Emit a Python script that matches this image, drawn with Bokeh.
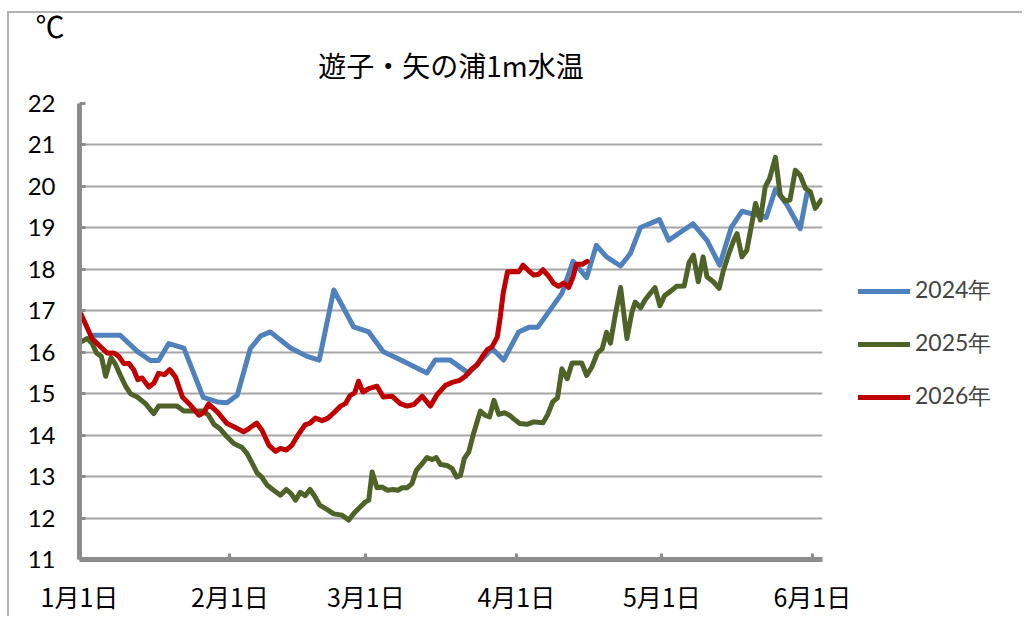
from bokeh.plotting import figure
from bokeh.models import Range1d, FixedTicker, Legend, LegendItem, Title
from bokeh.embed import file_html
from bokeh.resources import INLINE

# ---- data (x = days after Jan 1) ----
days_2024 = [2.9, 8.4, 11.9, 14.6, 16.3, 18.4, 21.5, 25.5, 28.4, 30.4, 32.5, 35.2, 37.3, 39.3,
             43.5, 46.9, 49.4, 52.4, 56.5, 59.6, 62.6, 66.1, 71.6, 73.3, 76.4, 80.2, 85.0, 87.4,
             90.5, 92.6, 94.4, 99.4, 101.7, 104.5, 106.5, 108.6, 111.5, 113.5, 115.6, 119.5,
             121.4, 126.4, 129.3, 131.9, 134.3, 136.5, 141.5, 143.4, 145.8, 148.5, 149.9]
temp_2024 = [16.41, 16.41, 16.02, 15.80, 15.80, 16.21, 16.10, 14.91, 14.80, 14.78, 14.96, 16.09,
             16.39, 16.49, 16.10, 15.90, 15.81, 17.50, 16.61, 16.49, 16.01, 15.82, 15.50, 15.81,
             15.81, 15.49, 16.09, 15.81, 16.49, 16.60, 16.60, 17.42, 18.19, 17.80, 18.58, 18.30,
             18.08, 18.38, 19.01, 19.20, 18.70, 19.10, 18.70, 18.10, 19.01, 19.40, 19.25, 19.93,
             19.55, 18.98, 19.83]

days_2025 = [0.3, 1.6, 2.6, 3.5, 4.5, 5.4, 6.5, 7.4, 8.4, 9.5, 10.5, 11.9, 13.6, 15.3, 16.3,
             18.1, 20.1, 21.5, 23.5, 25.6, 26.6, 27.7, 28.9, 30.4, 31.8, 33.5, 34.5, 35.6, 36.6,
             37.6, 38.7, 40.0, 41.4, 42.6, 43.6, 44.5, 45.5, 46.5, 47.5, 48.5, 49.5, 51.0, 52.4,
             54.1, 55.5, 56.5, 57.7, 58.9, 59.6, 60.3, 61.3, 62.3, 63.5, 64.6, 65.6, 66.5, 67.5,
             68.5, 69.4, 70.6, 71.6, 72.7, 73.5, 74.4, 75.7, 76.8, 77.7, 78.5, 79.3, 80.2, 81.2,
             82.6, 83.6, 84.5, 85.4, 86.4, 87.6, 88.6, 89.6, 90.7, 92.2, 93.6, 94.4, 95.5, 96.5,
             97.5, 98.5, 99.4, 100.5, 101.5, 102.5, 103.5, 104.5, 105.6, 106.7, 107.7, 108.6,
             109.4, 110.4, 111.5, 112.8, 113.8, 114.5, 115.6, 116.6, 117.6, 118.6, 119.6, 120.6,
             121.9, 123.0, 124.6, 125.6, 126.5, 127.5, 128.5, 129.3, 130.6, 131.8, 132.7, 133.8,
             134.8, 135.5, 136.5, 137.5, 138.4, 139.3, 140.3, 141.3, 142.2, 143.4, 144.4, 145.4,
             146.4, 147.5, 148.5, 149.6, 150.6, 151.6, 152.8]
temp_2025 = [16.25, 16.33, 16.21, 15.98, 15.90, 15.42, 15.87, 15.71, 15.45, 15.18, 15.00, 14.92,
             14.76, 14.52, 14.70, 14.70, 14.70, 14.58, 14.58, 14.58, 14.48, 14.26, 14.16, 13.96,
             13.80, 13.70, 13.56, 13.32, 13.09, 12.98, 12.79, 12.67, 12.55, 12.69, 12.59, 12.43,
             12.62, 12.54, 12.69, 12.52, 12.31, 12.21, 12.10, 12.07, 11.95, 12.11, 12.25, 12.39,
             12.43, 13.11, 12.73, 12.75, 12.67, 12.69, 12.67, 12.73, 12.73, 12.83, 13.15, 13.31,
             13.46, 13.41, 13.46, 13.29, 13.27, 13.19, 12.99, 13.03, 13.44, 13.59, 14.04, 14.58,
             14.48, 14.44, 14.84, 14.50, 14.54, 14.48, 14.38, 14.28, 14.26, 14.32, 14.31, 14.30,
             14.50, 14.80, 14.90, 15.60, 15.36, 15.74, 15.74, 15.74, 15.44, 15.65, 15.98, 16.08,
             16.48, 16.22, 16.90, 17.56, 16.33, 16.95, 17.21, 17.07, 17.27, 17.42, 17.56, 17.12,
             17.37, 17.48, 17.59, 17.60, 18.16, 18.34, 17.70, 18.30, 17.82, 17.70, 17.54, 17.98,
             18.38, 18.70, 18.86, 18.30, 18.46, 19.02, 19.59, 19.19, 19.99, 20.19, 20.70, 19.79,
             19.65, 19.67, 20.39, 20.27, 19.95, 19.87, 19.47, 19.67]

days_2026 = [0.3, 2.6, 4.0, 5.7, 7.1, 8.1, 9.1, 10.2, 11.2, 12.0, 12.9, 14.3, 15.3, 16.3, 17.5,
             18.6, 19.8, 21.2, 22.9, 24.6, 25.6, 26.6, 28.4, 30.4, 31.8, 33.8, 34.9, 36.5, 37.6,
             39.0, 40.4, 41.4, 42.6, 43.8, 45.0, 46.5, 47.5, 48.6, 50.0, 51.2, 52.4, 53.8, 54.8,
             55.8, 56.7, 57.5, 58.4, 59.6, 61.3, 62.6, 64.4, 66.1, 67.5, 68.9, 70.6, 72.3, 73.7,
             75.4, 77.0, 78.3, 79.5, 80.6, 81.9, 83.2, 84.1, 85.0, 86.1, 86.7, 87.3, 88.2, 89.5,
             90.5, 91.4, 92.6, 93.6, 94.6, 95.5, 96.7, 97.7, 98.7, 99.8, 100.8, 101.7, 102.4,
             103.6, 104.6]
temp_2026 = [16.92, 16.33, 16.17, 15.98, 15.98, 15.90, 15.73, 15.73, 15.57, 15.34, 15.38, 15.16,
             15.25, 15.49, 15.46, 15.58, 15.40, 14.92, 14.72, 14.48, 14.54, 14.75, 14.56, 14.28,
             14.20, 14.08, 14.16, 14.29, 14.12, 13.76, 13.61, 13.68, 13.64, 13.76, 14.00, 14.25,
             14.29, 14.41, 14.35, 14.41, 14.54, 14.70, 14.76, 14.96, 15.02, 15.30, 15.04, 15.12,
             15.18, 14.92, 14.94, 14.76, 14.70, 14.74, 14.94, 14.70, 14.98, 15.20, 15.28, 15.32,
             15.42, 15.57, 15.69, 15.93, 16.07, 16.13, 16.37, 16.85, 17.42, 17.94, 17.95, 17.94,
             18.10, 17.96, 17.86, 17.88, 17.99, 17.83, 17.66, 17.59, 17.67, 17.56, 17.82, 18.12,
             18.12, 18.19]

series_names = ["2024年", "2025年", "2026年"]
series_colors = ["#4F81BD", "#4F6228", "#C00000"]

tick_days = [0, 31, 59, 90, 120, 151]
tick_labels = ["1月1日", "2月1日", "3月1日", "4月1日", "5月1日", "6月1日"]
y_ticks = list(range(11, 23))

title_text = "遊子・矢の浦1m水温"
unit_text = "℃"

# ---- figure ----
p = figure(frame_width=743, frame_height=456, output_backend="svg", toolbar_location=None,
           title=None, x_range=Range1d(0, 153.1), y_range=Range1d(11, 22),
           min_border_left=79, min_border_right=200, min_border_top=103, min_border_bottom=40)
p.border_fill_color = None
p.background_fill_color = "white"
p.outline_line_color = None
p.styles = {
    "background-image": "linear-gradient(#b4b4b4,#b4b4b4), linear-gradient(#b4b4b4,#b4b4b4)",
    "background-position": "7px 11px, 7px 11px",
    "background-size": "1015px 2px, 2px 610px",
    "background-repeat": "no-repeat",
}

axis_gray = "#8c8c8c"
p.xgrid.grid_line_color = None
p.ygrid.grid_line_color = "#a6a6a6"
p.ygrid.grid_line_width = 2
p.ygrid.ticker = FixedTicker(ticks=y_ticks)

for ax in (p.xaxis[0], p.yaxis[0]):
    ax.axis_line_color = axis_gray
    ax.axis_line_width = 5
    ax.major_tick_line_color = axis_gray
    ax.major_tick_line_width = 3
    ax.major_tick_in = 6
    ax.major_tick_out = 0
    ax.minor_tick_line_color = None
    ax.major_label_text_color = "black"

p.yaxis.ticker = FixedTicker(ticks=y_ticks)
p.yaxis.major_label_text_font = "Lato"
p.yaxis.major_label_text_font_size = "24px"
p.yaxis.major_label_standoff = 24

p.xaxis.ticker = FixedTicker(ticks=tick_days)
p.xaxis.major_label_overrides = {d: t for d, t in zip(tick_days, tick_labels)}
p.xaxis.major_label_text_font = "Noto Sans CJK JP"
p.xaxis.major_label_text_font_size = "25px"
p.xaxis.major_label_standoff = 18

renderers = []
for d, t, c in zip([days_2024, days_2025, days_2026],
                   [temp_2024, temp_2025, temp_2026], series_colors):
    r = p.line(d, t, line_color=c, line_width=5, line_join="round", line_cap="round")
    renderers.append(r)

legend = Legend(items=[LegendItem(label=n, renderers=[r]) for n, r in zip(series_names, renderers)],
                location=(36, 147))
legend.background_fill_alpha = 0
legend.border_line_alpha = 0
legend.padding = 0
legend.margin = 0
legend.spacing = 22
legend.glyph_width = 52
legend.glyph_height = 30
legend.label_height = 30
legend.label_standoff = 5
legend.label_text_font = "Lato"
legend.label_text_font_size = "23px"
legend.label_text_baseline = "middle"
p.add_layout(legend, "right")

main_title = Title(text=title_text, align="center", vertical_align="top", standoff=33,
                   text_font="Noto Sans CJK JP", text_font_size="28px",
                   text_font_style="normal", text_color="black")
unit_title = Title(text=unit_text, align="left", vertical_align="top", standoff=-50, offset=-44,
                   text_font="Noto Sans CJK JP", text_font_size="29px",
                   text_font_style="normal", text_color="black")
p.add_layout(main_title, "above")
p.add_layout(unit_title, "above")

open("out.html", "w").write(file_html(p, INLINE))
